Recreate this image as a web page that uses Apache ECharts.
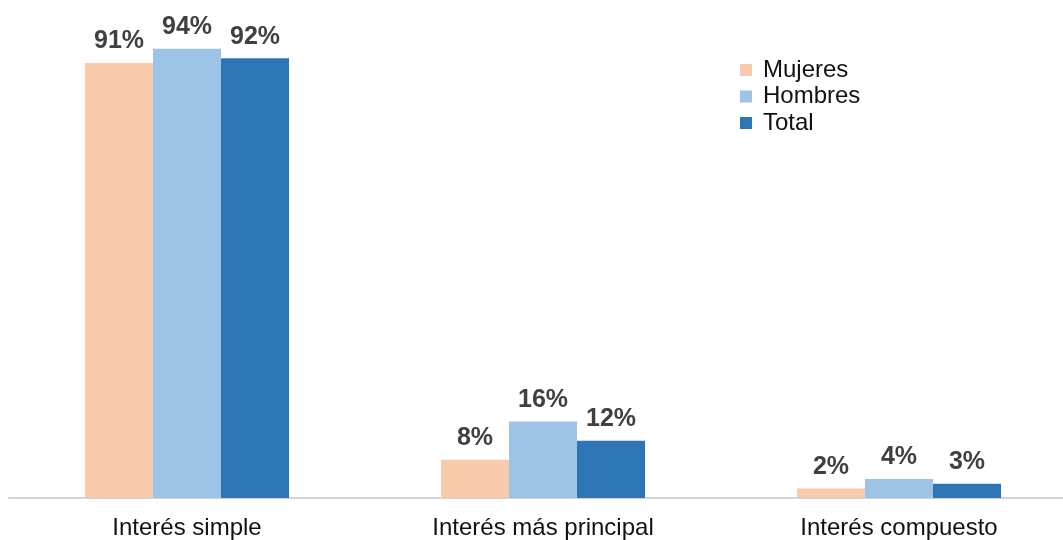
<!DOCTYPE html>
<html>
<head>
<meta charset="utf-8">
<script src="https://cdn.jsdelivr.net/npm/echarts@6/dist/echarts.min.js"></script>
<style>html,body{margin:0;padding:0;background:#fff;overflow:hidden}#c{width:1077px;height:540px}</style>
</head>
<body>
<div id="c"></div>
<script>
var categories = ['Interés simple', 'Interés más principal', 'Interés compuesto'];
var mujeres = [91, 8, 2];
var hombres = [94, 16, 4];
var total = [92, 12, 3];
var seriesNames = ['Mujeres', 'Hombres', 'Total'];
var colors = ['#F8CBAD', '#9DC3E6', '#2E75B6'];

var chart = echarts.init(document.getElementById('c'));
var label = {
  show: true, position: 'top', distance: 9,
  formatter: function (p) { return Math.round(p.value) + '%'; },
  color: '#404040', fontWeight: 'bold', fontSize: 25, fontFamily: 'Liberation Sans, Arial, sans-serif'
};
function mk(name, data, color) {
  return { name: name, type: 'bar', data: data, barWidth: 68, barGap: '0%',
    itemStyle: { color: color }, label: label };
}
chart.setOption({
  animation: false,
  textStyle: { fontFamily: 'Liberation Sans, Arial, sans-serif' },
  legend: {
    orient: 'vertical', left: 735, top: 53, itemWidth: 12, itemHeight: 12, itemGap: 2.5,
    icon: 'rect',
    textStyle: { fontSize: 24, color: '#111', lineHeight: 24, padding: [0, 0, 0, 6] },
    data: seriesNames
  },
  grid: { left: 9, right: 0, top: 20, bottom: 42, containLabel: false },
  xAxis: {
    type: 'category', data: categories,
    axisTick: { show: false },
    axisLine: { lineStyle: { color: '#d4d4d4', width: 2 } },
    axisLabel: { fontSize: 24, color: '#111', margin: 18 }
  },
  yAxis: { type: 'value', min: 0, max: 100, show: false, splitLine: { show: false } },
  series: [mk(seriesNames[0], mujeres, colors[0]), mk(seriesNames[1], hombres, colors[1]), mk(seriesNames[2], total, colors[2])]
});
</script>
</body>
</html>
